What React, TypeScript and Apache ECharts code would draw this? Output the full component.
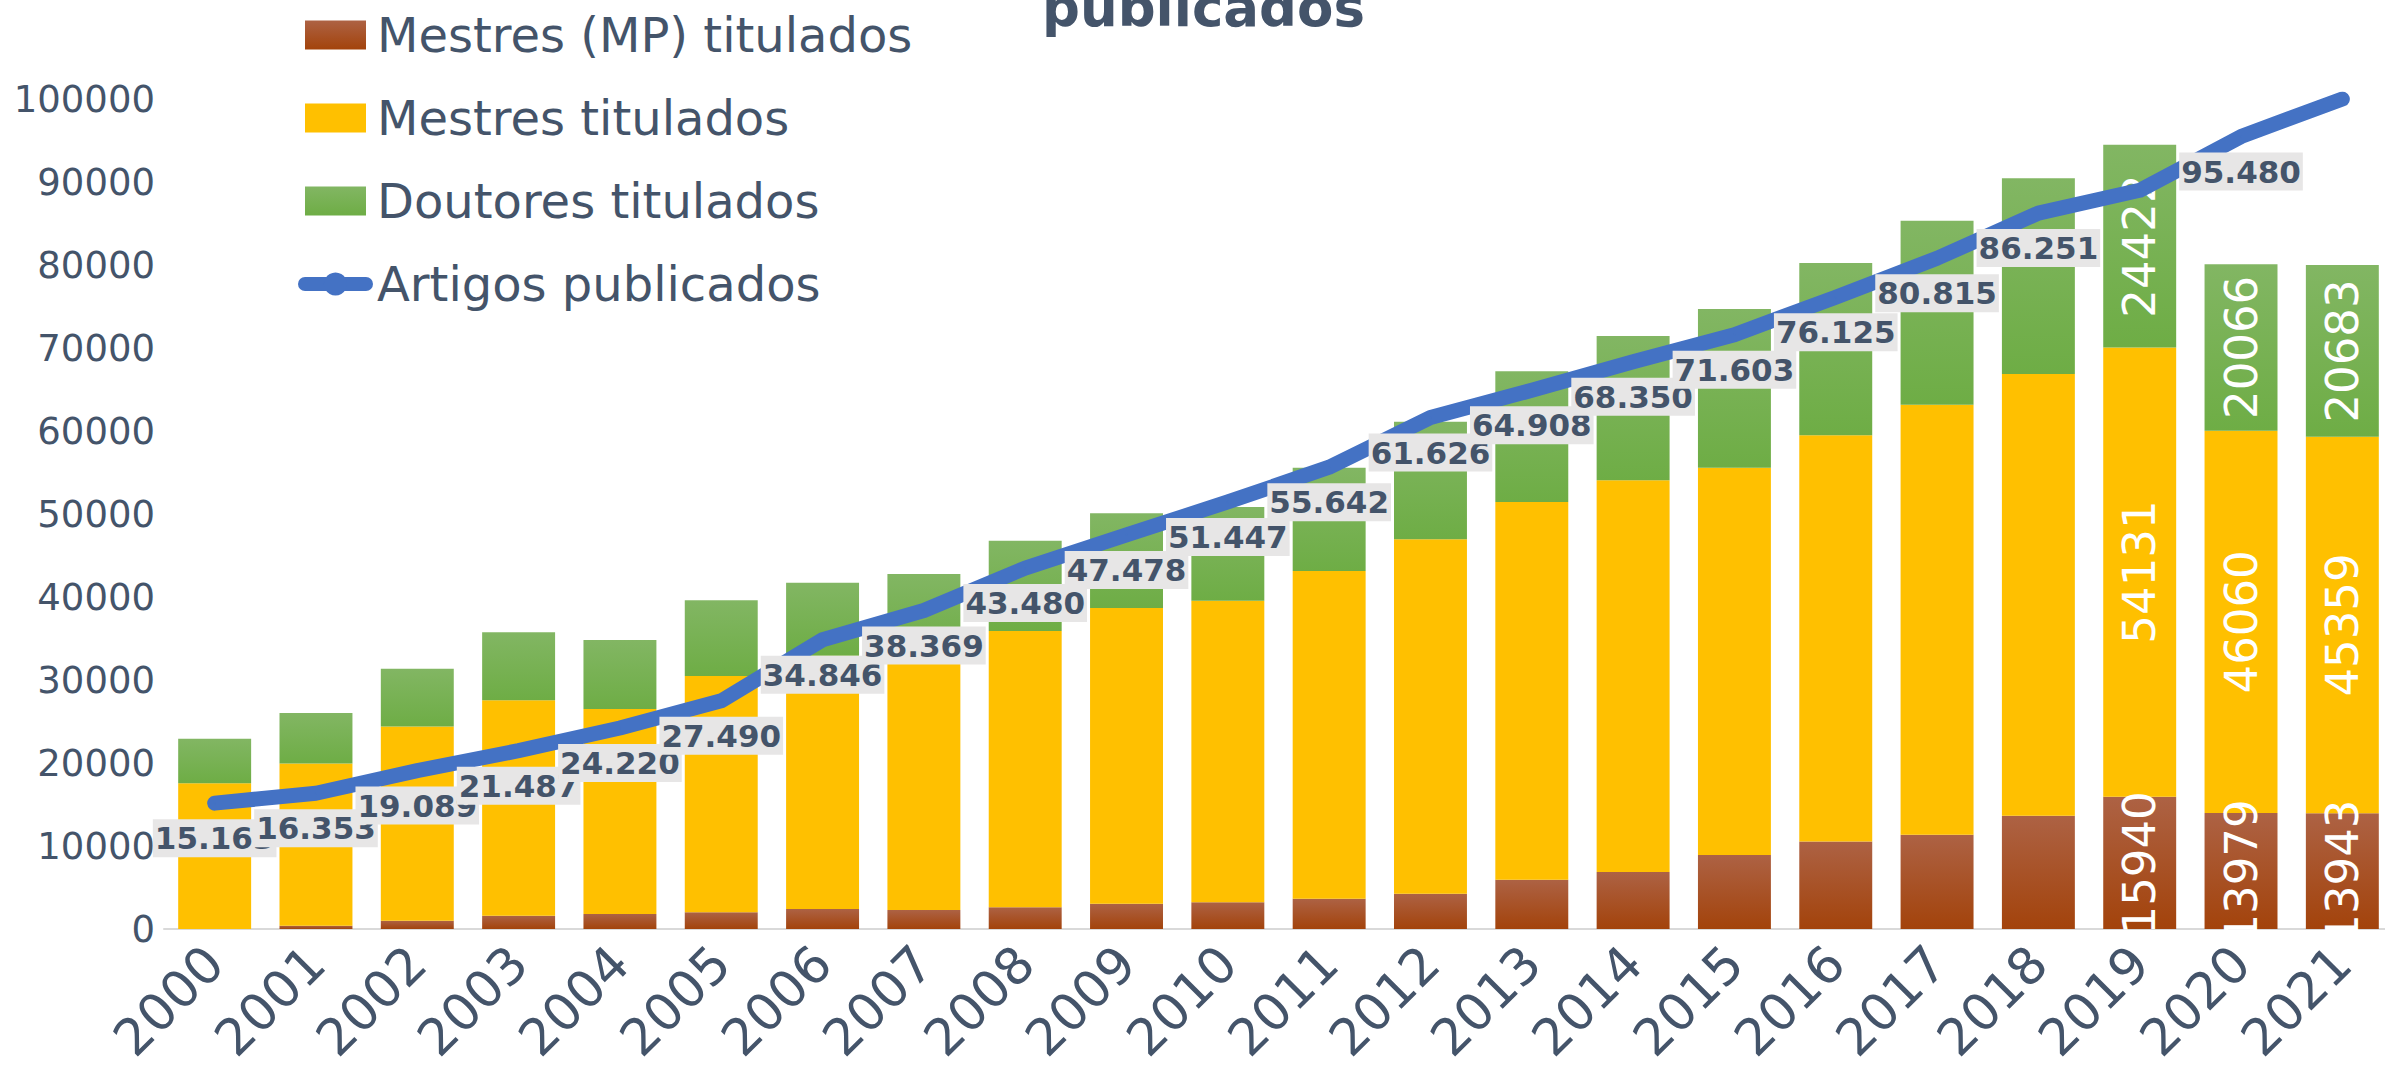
import React, { useEffect, useRef } from 'react';
import * as echarts from 'echarts';

const years = ['2000', '2001', '2002', '2003', '2004', '2005', '2006', '2007', '2008', '2009', '2010', '2011', '2012', '2013', '2014', '2015', '2016', '2017', '2018', '2019', '2020', '2021'];
const mestresMP = [0, 400, 1000, 1610, 1820, 2010, 2420, 2290, 2630, 3040, 3230, 3640, 4250, 5940, 6880, 8920, 10540, 11350, 13650, 15940, 13979, 13943];
const mestres = [17570, 19540, 23400, 25960, 24680, 28470, 30490, 30500, 33270, 35630, 36310, 39490, 42720, 45510, 47200, 46650, 48950, 51800, 53210, 54131, 46060, 45359];
const doutores = [5350, 6080, 6960, 8180, 8310, 9130, 8800, 9990, 10890, 11430, 11290, 12430, 14130, 15750, 17370, 19130, 20750, 22170, 23600, 24422, 20066, 20683];
const artigos = [15163, 16353, 19089, 21487, 24220, 27490, 34846, 38369, 43480, 47478, 51447, 55642, 61626, 64908, 68350, 71603, 76125, 80815, 86251, 89000, 95480, 100000];
const labeledBarYears = ['2019', '2020', '2021'];
const hiddenLineLabelYears = ['2019', '2021'];
const seriesNames = ['Mestres (MP) titulados', 'Mestres titulados', 'Doutores titulados', 'Artigos publicados'];
const titleText = 'publicados';

const FONT = 'DejaVu Sans';
const TEXT = '#44546A';

const fmt = (v: number) => String(v).replace(/\B(?=(\d{3})+(?!\d))/g, '.');

const grad = (top: string, bottom: string) =>
  new echarts.graphic.LinearGradient(0, 0, 0, 1, [
    { offset: 0, color: top },
    { offset: 1, color: bottom },
  ]);

export default function App() {
  const ref = useRef<HTMLDivElement>(null);
  useEffect(() => {
    if (!ref.current) return;
    const chart = echarts.init(ref.current, null, { renderer: 'svg' });
    const barData = (arr: number[]) =>
      arr.map((v, i) => ({ value: v, label: { show: labeledBarYears.includes(years[i]) } }));
    const barLabel = {
      show: false,
      position: 'inside',
      rotate: 90,
      color: '#ffffff',
      fontSize: 45,
      fontFamily: FONT,
    };
    chart.setOption({
      animation: false,
      backgroundColor: '#ffffff',
      title: {
        text: titleText,
        left: 1042,
        top: -19,
        padding: 0,
        textStyle: { fontFamily: FONT, fontWeight: 'bold', fontSize: 53, lineHeight: 53, color: TEXT },
      },
      legend: {
        data: [
          { name: seriesNames[0], icon: 'rect' },
          { name: seriesNames[1], icon: 'rect' },
          { name: seriesNames[2], icon: 'rect' },
          { name: seriesNames[3] },
        ],
        orient: 'vertical',
        left: 298,
        top: 11,
        padding: 0,
        itemWidth: 61,
        itemHeight: 29,
        itemGap: 35,
        textStyle: { fontFamily: FONT, fontSize: 48, lineHeight: 48, color: TEXT, padding: [0, 0, 0, 6] },
        lineStyle: { width: 14 },
      },
      grid: { left: 164, right: -8, top: 99, bottom: 140, containLabel: false, outerBoundsMode: 'none' },
      xAxis: {
        type: 'category',
        data: years,
        axisLine: { show: true, lineStyle: { color: '#D9D9D9', width: 2 } },
        axisTick: { show: false },
        axisLabel: { rotate: 45, fontFamily: FONT, fontSize: 51, lineHeight: 51, color: TEXT, margin: 26, interval: 0 },
      },
      yAxis: {
        type: 'value',
        min: 0,
        max: 100000,
        interval: 10000,
        splitLine: { show: false },
        axisLine: { show: false },
        axisTick: { show: false },
        axisLabel: { fontFamily: FONT, fontSize: 37, color: TEXT, margin: 9, formatter: (v: number) => String(v) },
      },
      series: [
        {
          name: seriesNames[0],
          type: 'bar',
          stack: 'total',
          barWidth: '72%',
          itemStyle: { color: grad('#AD6244', '#A3430B') },
          label: barLabel,
          data: barData(mestresMP),
        },
        {
          name: seriesNames[1],
          type: 'bar',
          stack: 'total',
          barWidth: '72%',
          itemStyle: { color: '#FFC000' },
          label: barLabel,
          data: barData(mestres),
        },
        {
          name: seriesNames[2],
          type: 'bar',
          stack: 'total',
          barWidth: '72%',
          itemStyle: { color: grad('#82B663', '#6EAD45') },
          label: barLabel,
          data: barData(doutores),
        },
        {
          name: seriesNames[3],
          type: 'line',
          z: 10,
          symbol: 'circle',
          symbolSize: 2,
          showSymbol: true,
          itemStyle: { color: '#4472C4' },
          lineStyle: { color: '#4472C4', width: 15, cap: 'round', join: 'round' },
          label: {
            show: true,
            position: 'bottom',
            distance: 15,
            fontFamily: FONT,
            fontWeight: 'bold',
            fontSize: 31,
            lineHeight: 36,
            color: TEXT,
            backgroundColor: '#E7E6E6',
            padding: [1, 2, 1, 2],
            formatter: (p: any) => fmt(p.value),
          },
          data: artigos.map((v, i) => ({ value: v, label: { show: !hiddenLineLabelYears.includes(years[i]) } })),
        },
      ],
    });
    return () => chart.dispose();
  }, []);
  return <div ref={ref} style={{ position: 'fixed', left: 0, top: 0, width: 2385, height: 1069 }} />;
}
